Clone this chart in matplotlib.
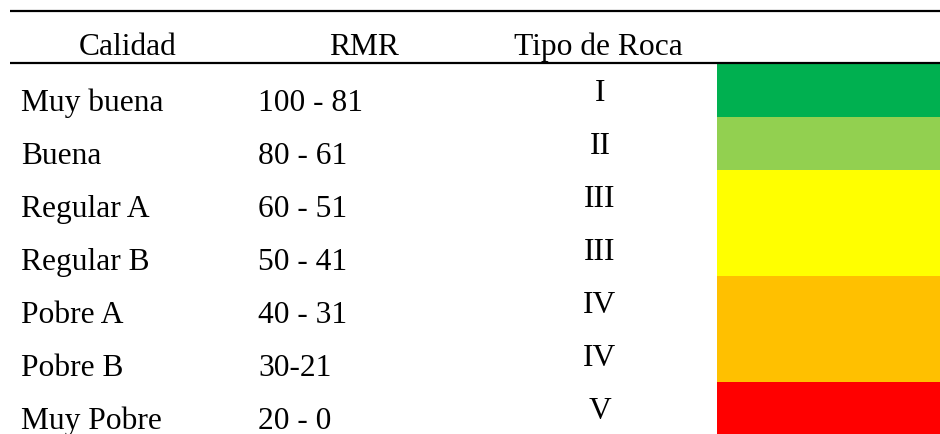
import matplotlib
matplotlib.use("Agg")
import matplotlib.pyplot as plt

# table content
calidad = ["Muy buena", "Buena", "Regular A", "Regular B", "Pobre A", "Pobre B", "Muy Pobre"]
rmr = ["100 - 81", "80 - 61", "60 - 51", "50 - 41", "40 - 31", "30-21", "20 - 0"]
tipo_roca = ["I", "II", "III", "III", "IV", "IV", "V"]
colores = ["#00B050", "#92D050", "#FFFF00", "#FFFF00", "#FFC000", "#FFC000", "#FF0000"]
encabezados = ["Calidad", "RMR", "Tipo de Roca"]

W, H = 940, 434
fig = plt.figure(figsize=(W / 100, H / 100), dpi=100)
ax = fig.add_axes([0, 0, 1, 1])
ax.set_xlim(0, W)
ax.set_ylim(H, 0)
ax.axis("off")

font = dict(family="Liberation Serif", fontsize=22.7, color="black")

# rows start under the header rule
row_top = 64
row_h = 53

# colour column as horizontal bars
tops = [row_top + i * row_h for i in range(len(colores))]
ax.bar([717] * len(colores), [row_h] * len(colores), width=W - 717, bottom=tops,
       align="edge", color=colores, edgecolor="none")

# rules
ax.plot([10, W], [11, 11], color="black", lw=1.6, solid_capstyle="butt")
ax.plot([10, W], [62.7, 62.7], color="black", lw=1.6, solid_capstyle="butt")

# header
header_x = [127.5, 363.5, 598.5]
for x, txt in zip(header_x, encabezados):
    ax.text(x, 55, txt, ha="center", va="baseline", **font)

# body
for i in range(len(calidad)):
    top = row_top + i * row_h
    ax.text(21, top + 47, calidad[i], ha="left", va="baseline", **font)
    ax.text(258, top + 47, rmr[i], ha="left", va="baseline", **font)
    ax.text(600, top + 37, tipo_roca[i], ha="center", va="baseline", **font)

fig.savefig("out.png", dpi=100)
